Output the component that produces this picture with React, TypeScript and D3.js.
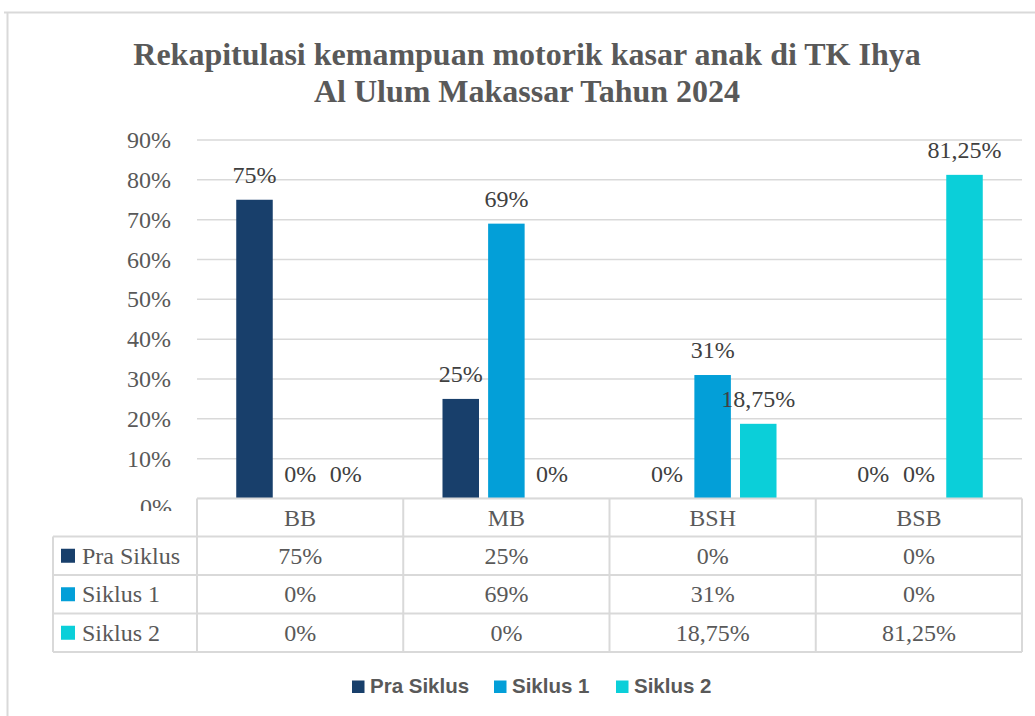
import React from "react";
import * as d3 from "d3";

const categories = ["BB", "MB", "BSH", "BSB"];
const seriesNames = ["Pra Siklus", "Siklus 1", "Siklus 2"];
const praSiklus = [0.75, 0.25, 0, 0];
const siklus1 = [0, 0.69, 0.31, 0];
const siklus2 = [0, 0, 0.1875, 0.8125];
const labelsPra = ["75%", "25%", "0%", "0%"];
const labelsS1 = ["0%", "69%", "31%", "0%"];
const labelsS2 = ["0%", "0%", "18,75%", "81,25%"];
const yTicks = [0, 0.1, 0.2, 0.3, 0.4, 0.5, 0.6, 0.7, 0.8, 0.9];
const colors = ["#183f6b", "#039fd8", "#0bcfd9"];
const titleLines = [
  "Rekapitulasi kemampuan motorik kasar anak di TK Ihya",
  "Al Ulum Makassar Tahun 2024",
];

const W = 1035;
const H = 716;
const plotL = 197;
const plotR = 1022;
const plotTop = 140;
const plotBottom = 498.5;
const tableLeft = 53;
const rowLines = [498.5, 536.5, 575, 613.5, 652];
const grid = "#d9d9d9";
const textCol = "#595959";
const labelCol = "#404040";
const serif = "'Liberation Serif', 'Times New Roman', serif";
const sans = "'Liberation Sans', Arial, sans-serif";

export default function App() {
  const values = [praSiklus, siklus1, siklus2];
  const labels = [labelsPra, labelsS1, labelsS2];
  const x0 = d3.scaleBand<string>().domain(categories).range([plotL, plotR]).paddingInner(0).paddingOuter(0);
  const x1 = d3
    .scaleBand<string>()
    .domain(seriesNames)
    .range([0, x0.bandwidth()])
    .paddingInner(0.2)
    .paddingOuter(0.86);
  const y = d3.scaleLinear().domain([0, 0.9]).range([plotBottom, plotTop]);
  const pct = d3.format(".0%");

  const legendItems = [
    { name: seriesNames[0], sx: 352, tx: 370 },
    { name: seriesNames[1], sx: 494, tx: 512 },
    { name: seriesNames[2], sx: 616, tx: 634 },
  ];

  return (
    <svg
      width={W}
      height={H}
      style={{ position: "absolute", left: 0, top: 0, background: "#fff" }}
    >
      <defs>
        <clipPath id="zeroClip">
          <rect x={100} y={490} width={90} height={21} />
        </clipPath>
      </defs>
      {/* frame */}
      <line x1={4} x2={W} y1={12.5} y2={12.5} stroke={grid} strokeWidth={2} />
      <line x1={7.5} x2={7.5} y1={12} y2={H} stroke={grid} strokeWidth={2} />

      {/* title */}
      {titleLines.map((t, i) => (
        <text
          key={t}
          x={527}
          y={65 + i * 37}
          textAnchor="middle"
          fontFamily={serif}
          fontWeight="bold"
          fontSize={32}
          fill={textCol}
        >
          {t}
        </text>
      ))}

      {/* gridlines */}
      {yTicks.map((t) => (
        <line
          key={"g" + t}
          x1={plotL}
          x2={plotR}
          y1={y(t)}
          y2={y(t)}
          stroke={grid}
          strokeWidth={1.5}
        />
      ))}

      {/* y tick labels */}
      {yTicks.map((t) =>
        t === 0 ? (
          <text
            key={"l" + t}
            x={172}
            y={y(t) + 16}
            textAnchor="end"
            fontFamily={serif}
            fontSize={24}
            fill={textCol}
            clipPath="url(#zeroClip)"
          >
            {pct(t)}
          </text>
        ) : (
          <text
            key={"l" + t}
            x={171}
            y={y(t) + 8}
            textAnchor="end"
            fontFamily={serif}
            fontSize={24}
            fill={textCol}
          >
            {pct(t)}
          </text>
        )
      )}

      {/* bars */}
      {categories.map((c, ci) =>
        seriesNames.map((s, si) => {
          const v = values[si][ci];
          const bx = (x0(c) ?? 0) + (x1(s) ?? 0);
          return (
            <rect
              key={c + s}
              x={bx}
              y={y(v)}
              width={x1.bandwidth()}
              height={y(0) - y(v)}
              fill={colors[si]}
            />
          );
        })
      )}

      {/* data labels */}
      {categories.map((c, ci) =>
        seriesNames.map((s, si) => {
          const v = values[si][ci];
          const cx = (x0(c) ?? 0) + (x1(s) ?? 0) + x1.bandwidth() / 2;
          return (
            <text
              key={"d" + c + s}
              x={cx}
              y={y(v) - 17}
              textAnchor="middle"
              fontFamily={serif}
              fontSize={24}
              fill={labelCol}
            >
              {labels[si][ci]}
            </text>
          );
        })
      )}

      {/* data table */}
      <g>
        <rect x={tableLeft} y={rowLines[1]} width={plotL - tableLeft} height={rowLines[4] - rowLines[1]} fill="#fff" />
        <rect x={plotL} y={rowLines[0]} width={plotR - plotL} height={rowLines[1] - rowLines[0]} fill="#fff" />
        <line x1={plotL} x2={plotR} y1={rowLines[0]} y2={rowLines[0]} stroke={grid} strokeWidth={2} />
        {rowLines.slice(1).map((ry) => (
          <line key={"r" + ry} x1={tableLeft} x2={plotR} y1={ry} y2={ry} stroke={grid} strokeWidth={2} />
        ))}
        <line x1={tableLeft} x2={tableLeft} y1={rowLines[1]} y2={rowLines[4]} stroke={grid} strokeWidth={2} />
        {categories.map((c) => (
          <line
            key={"v" + c}
            x1={x0(c)}
            x2={x0(c)}
            y1={rowLines[0]}
            y2={rowLines[4]}
            stroke={grid}
            strokeWidth={2}
          />
        ))}
        <line x1={plotR} x2={plotR} y1={rowLines[0]} y2={rowLines[4]} stroke={grid} strokeWidth={2} />
        {categories.map((c) => (
          <text
            key={"h" + c}
            x={(x0(c) ?? 0) + x0.bandwidth() / 2}
            y={(rowLines[0] + rowLines[1]) / 2 + 8}
            textAnchor="middle"
            fontFamily={serif}
            fontSize={24}
            fill={textCol}
          >
            {c}
          </text>
        ))}
        {seriesNames.map((s, si) => {
          const cy = (rowLines[si + 1] + rowLines[si + 2]) / 2;
          return (
            <g key={"row" + s}>
              <rect x={61} y={cy - 7} width={14} height={14} fill={colors[si]} />
              <text x={82} y={cy + 8} fontFamily={serif} fontSize={24} fill={textCol}>
                {s}
              </text>
              {categories.map((c, ci) => (
                <text
                  key={"c" + s + c}
                  x={(x0(c) ?? 0) + x0.bandwidth() / 2}
                  y={cy + 8}
                  textAnchor="middle"
                  fontFamily={serif}
                  fontSize={24}
                  fill={textCol}
                >
                  {labels[si][ci]}
                </text>
              ))}
            </g>
          );
        })}
      </g>

      {/* legend */}
      {legendItems.map((it, i) => (
        <g key={"lg" + it.name}>
          <rect x={it.sx} y={680.5} width={12.5} height={12.5} fill={colors[i]} />
          <text x={it.tx} y={693} fontFamily={sans} fontWeight="bold" fontSize={20.5} fill={textCol}>
            {it.name}
          </text>
        </g>
      ))}
    </svg>
  );
}
